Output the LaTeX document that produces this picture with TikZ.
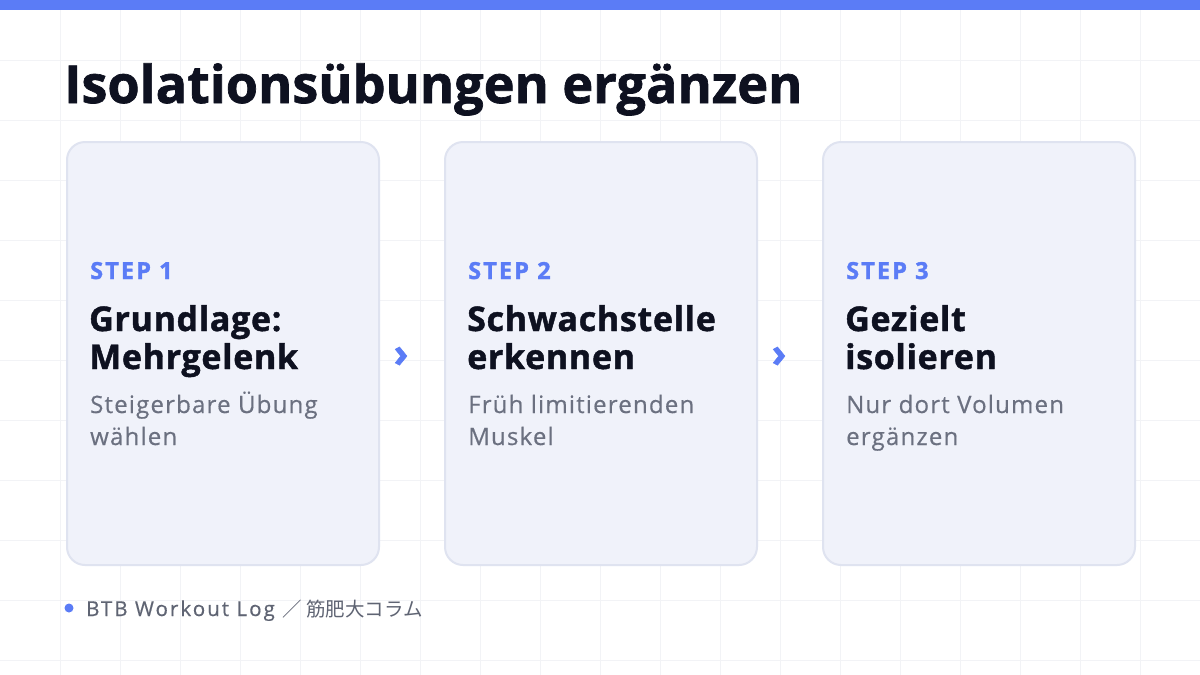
\documentclass[tikz,border=0pt]{standalone}
\usepackage{fontspec}
\setmainfont{Open Sans}
\newfontfamily\heavy{Open Sans}[BoldFeatures={FakeBold=1.3}]
\newfontfamily\medium{Open Sans}[FakeBold=0.5]
\newfontfamily\cjkfont{Noto Sans CJK JP}
\definecolor{accent}{HTML}{5B7CF6}
\definecolor{ink}{HTML}{0E1120}
\definecolor{subgray}{HTML}{6B7080}
\definecolor{footgray}{HTML}{5F6473}
\definecolor{cardfill}{HTML}{F0F2FA}
\definecolor{cardline}{HTML}{DFE3F0}
\definecolor{gridc}{HTML}{F2F3F6}
\tikzset{
  card/.style={draw=cardline, line width=2pt, fill=cardfill, rounded corners=18pt,
    minimum width=312pt, minimum height=423pt, anchor=north west, inner sep=0pt},
  steplbl/.style={anchor=base west, inner sep=0pt, text=accent, font=\heavy\bfseries\fontsize{23.5}{23.5}\selectfont\addfontfeature{LetterSpace=9}},
  headln/.style={anchor=base west, inner sep=0pt, text=ink, font=\heavy\bfseries\fontsize{34}{34}\selectfont\addfontfeature{LetterSpace=2}},
  subln/.style={anchor=base west, inner sep=0pt, text=subgray, font=\medium\fontsize{24}{24}\selectfont\addfontfeature{LetterSpace=5}},
  chev/.style={inner sep=0pt, text=accent, font=\heavy\bfseries\fontsize{40}{40}\selectfont},
  gridln/.style={draw=gridc, line width=1pt}
}
\begin{document}
\begin{tikzpicture}[x=1pt,y=-1pt]
\useasboundingbox (0,0) rectangle (1200,675);
\fill[white] (0,0) rectangle (1200,675);
\foreach \gx in {60,120,...,1140} \draw[gridln] (\gx,10) -- (\gx,675);
\foreach \gy in {60,120,...,660} \draw[gridln] (0,\gy) -- (1200,\gy);
\fill[accent] (0,0) rectangle (1200,10);

\node[anchor=base west, inner sep=0pt, text=ink, font=\heavy\bfseries\fontsize{52.2}{52.2}\selectfont] (title) at (64,103) {Isolationsübungen ergänzen};

\node[card] (c1) at (66,141) {};
\node[card] (c2) at (444,141) {};
\node[card] (c3) at (822,141) {};

\node[steplbl] (s1) at (90,279) {STEP 1};
\node[headln] (h1a) at (89,331) {Grundlage:};
\node[headln] (h1b) at (89,369) {Mehrgelenk};
\node[subln] (d1a) at (90,413) {Steigerbare Übung};
\node[subln] (d1b) at (90,445) {wählen};

\node[steplbl] (s2) at (468,279) {STEP 2};
\node[headln] (h2a) at (467,331) {Schwachstelle};
\node[headln] (h2b) at (467,369) {erkennen};
\node[subln] (d2a) at (468,413) {Früh limitierenden};
\node[subln] (d2b) at (468,445) {Muskel};

\node[steplbl] (s3) at (846,279) {STEP 3};
\node[headln] (h3a) at (845,331) {Gezielt};
\node[headln] (h3b) at (845,369) {isolieren};
\node[subln] (d3a) at (846,413) {Nur dort Volumen};
\node[subln] (d3b) at (846,445) {ergänzen};

\node[chev] (a1) at (401,357) {›};
\node[chev] (a2) at (779,357) {›};

\fill[accent] (69,608) circle (4.5pt) coordinate (dot);
\node[anchor=base west, inner sep=0pt, text=footgray, font=\medium\fontsize{20.5}{20.5}\selectfont] (foot) at (86,616) {\addfontfeature{LetterSpace=10}BTB Workout Log {\cjkfont\fontsize{19.5}{19.5}\selectfont ／ 筋肥大コラム}};
\end{tikzpicture}
\end{document}
